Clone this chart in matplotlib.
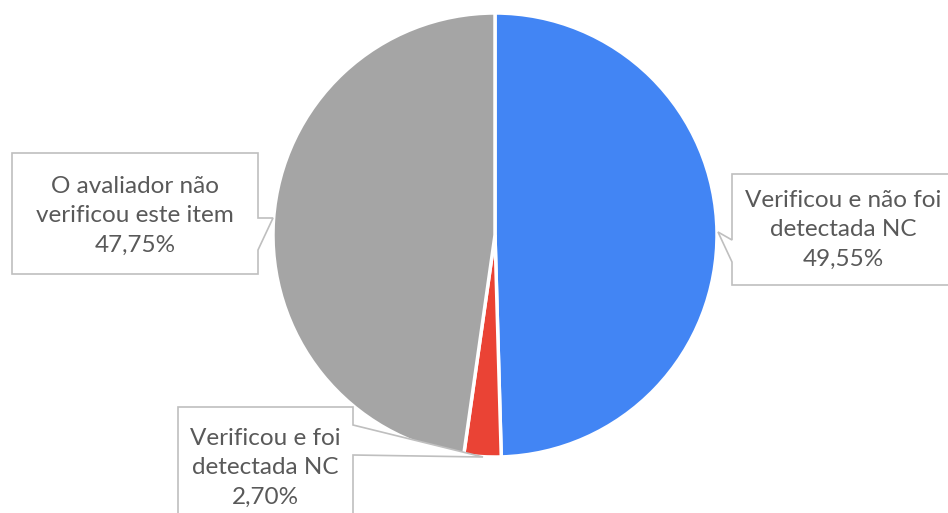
import matplotlib.pyplot as plt
from matplotlib.patches import Polygon

# dados do gráfico
categorias = ["Verificou e não foi\ndetectada NC",
              "Verificou e foi\ndetectada NC",
              "O avaliador não\nverificou este item"]
percentuais = [49.55, 2.70, 47.75]
cores = ["#4285f4", "#ea4335", "#a5a5a5"]

W, H = 948, 513
fig = plt.figure(figsize=(W / 100, H / 100), dpi=100)
ax = fig.add_axes([0, 0, 1, 1])
ax.set_xlim(0, W)
ax.set_ylim(0, H)
ax.set_aspect("equal")
ax.axis("off")

cx, cy, r = 495, H - 235, 222
ax.pie(percentuais, colors=cores, startangle=90, counterclock=False,
       center=(cx, cy), radius=r, frame=True,
       wedgeprops=dict(edgecolor="white", linewidth=2.5))
ax.set_xlim(0, W)
ax.set_ylim(0, H)
ax.axis("off")


def callout(x0, y0, x1, y1, lado, b0, b1, tip):
    # caixa com ponteiro (coordenadas em pixels, y de cima para baixo)
    if lado == "right":
        pts = [(x0, y0), (x1, y0), (x1, b0), tip, (x1, b1), (x1, y1), (x0, y1)]
    else:
        pts = [(x0, y0), (x1, y0), (x1, y1), (x0, y1), (x0, b1), tip, (x0, b0)]
    pts = [(px, H - py) for px, py in pts]
    ax.add_patch(Polygon(pts, closed=True, facecolor="white",
                         edgecolor="#bfbfbf", linewidth=1.2, zorder=5))


def rotulo(i, x, y):
    txt = f"{categorias[i]}\n{percentuais[i]:.2f}%".replace(".", ",")
    ax.text(x, H - y, txt, ha="center", va="center", fontsize=17.5,
            color="#595959", family=["Lato", "DejaVu Sans"],
            linespacing=1.5, zorder=6)


callout(12, 153, 258, 274, "right", 218, 250, (273, 218))
rotulo(2, 135, 216)

callout(732, 174, 960, 285, "left", 240, 262, (718, 232))
rotulo(0, 843, 230)

callout(178, 407, 353, 530, "right", 425, 455, (483, 457))
rotulo(1, 265, 468)

fig.savefig("out.png", dpi=100)
